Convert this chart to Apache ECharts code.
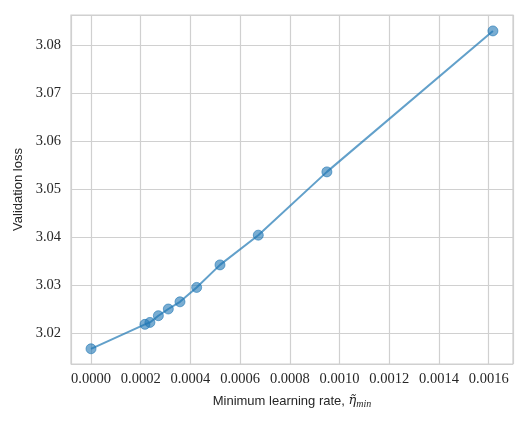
<!DOCTYPE html>
<html>
<head>
<meta charset="utf-8">
<script src="https://cdn.jsdelivr.net/npm/echarts@6/dist/echarts.min.js"></script>
<style>html,body{margin:0;padding:0;background:#fff}#c{width:529px;height:423px}</style>
</head>
<body>
<div id="c"></div>
<script>
const lrMin = [0.0, 0.000217, 0.000237, 0.000271, 0.000311, 0.000358, 0.000425, 0.000519, 0.000673, 0.000949, 0.001617];
const valLoss = [3.0167, 3.0218, 3.0222, 3.0236, 3.0250, 3.0265, 3.0295, 3.0342, 3.0404, 3.0536, 3.0830];
const xTickStep = 0.0002;
const yTickStep = 0.01;

const chart = echarts.init(document.getElementById('c'), null, {renderer: 'canvas'});
const serif = 'Liberation Serif';
const sans = 'Liberation Sans';
chart.setOption({
  animation: false,
  backgroundColor: '#ffffff',
  grid: {left: 71, right: 16, top: 15, bottom: 59, show: true, borderColor: '#d0d0d0', borderWidth: 1.2},
  xAxis: {
    type: 'value',
    min: -0.0000805, max: 0.0016978,
    minInterval: xTickStep, maxInterval: xTickStep, splitNumber: 9,
    axisLine: {show: false}, axisTick: {show: false},
    splitLine: {show: true, lineStyle: {color: '#d0d0d0', width: 1.2}},
    axisLabel: {showMinLabel: false, showMaxLabel: false, margin: 8, color: '#262626', fontFamily: serif, fontSize: 14.5,
      formatter: v => v.toFixed(4)},
    name: 'Minimum learning rate, {m|η̃}{s|min}',
    nameLocation: 'middle', nameGap: 29,
    nameTextStyle: {fontFamily: sans, fontSize: 13, color: '#262626',
      rich: {m: {fontFamily: 'DejaVu Serif', fontStyle: 'italic', fontSize: 13, color: '#262626'},
             s: {fontFamily: serif, fontStyle: 'italic', fontSize: 10, color: '#262626', padding: [6, 0, 0, 0]}}}
  },
  yAxis: {
    type: 'value',
    min: 3.01353, max: 3.08632,
    minInterval: yTickStep, maxInterval: yTickStep, splitNumber: 7,
    axisLine: {show: false}, axisTick: {show: false},
    splitLine: {show: true, lineStyle: {color: '#d0d0d0', width: 1.2}},
    axisLabel: {showMinLabel: false, showMaxLabel: false, margin: 10, color: '#262626', fontFamily: serif, fontSize: 14.5,
      formatter: v => v.toFixed(2)},
    name: 'Validation loss', nameLocation: 'middle', nameGap: 44,
    nameTextStyle: {fontFamily: sans, fontSize: 13, color: '#262626'}
  },
  series: [{
    type: 'line',
    data: lrMin.map((x, i) => [x, valLoss[i]]),
    symbol: 'circle', symbolSize: 10,
    lineStyle: {color: '#1f77b4', width: 2, opacity: 0.7},
    itemStyle: {color: '#1f77b4', opacity: 0.6, borderColor: '#1f77b4', borderWidth: 1},
    clip: false
  }]
});
</script>
</body>
</html>
